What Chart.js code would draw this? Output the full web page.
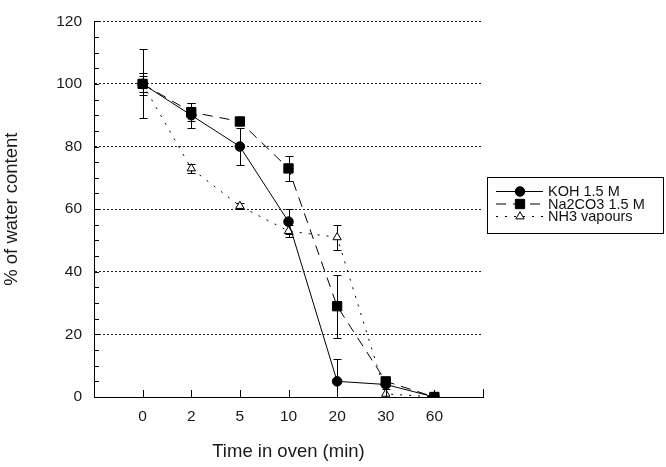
<!DOCTYPE html>
<html><head><meta charset="utf-8">
<script src="https://cdn.jsdelivr.net/npm/chart.js@4/dist/chart.umd.min.js"></script>
<style>html,body{margin:0;padding:0;background:#fff}#wrap{width:666px;height:467px;position:relative}</style>
</head><body><div id="wrap"><canvas id="c" width="666" height="467"></canvas></div>
<script>
const timeLabels = ['0','2','5','10','20','30','60'];
const kohValues = [100, 90, 80, 56, 5, 4, 0];
const kohErrors = [11, 4, 6, 4, 7, 0, 0];
const na2co3Values = [100, 91, 88, 73, 29, 5, 0];
const na2co3Errors = [3.5, 3, 0, 4, 10, 1.5, 1.5];
const nh3Values = [100, 73, 61, 53, 51, 1, 0];
const nh3Errors = [2.5, 1.5, 1, 2, 4, 1.5, 0];
const seriesNames = ['KOH 1.5 M', 'Na2CO3 1.5 M', 'NH3 vapours'];
const yMin = 0, yMax = 120, yStep = 20, yMinorStep = 5;

const FONT = "'Liberation Sans', Arial, Helvetica, sans-serif";
Chart.defaults.font.family = FONT;
Chart.defaults.color = '#1a1a1a';

function toPoints(vals){ return vals.map((v,i)=>({x:i, y:v})); }

function drawMarker(ctx, style, x, y, r, fill){
  ctx.save();
  ctx.fillStyle = fill; ctx.strokeStyle = '#000'; ctx.lineWidth = 1; ctx.setLineDash([]);
  ctx.beginPath();
  if (style === 'circle') { ctx.arc(x, y, r, 0, Math.PI*2); }
  else if (style === 'rect') { const s = Math.SQRT1_2 * r; ctx.rect(x-s, y-s, 2*s, 2*s); }
  else if (style === 'triangle') {
    ctx.moveTo(x, y - r); ctx.lineTo(x + r*0.866, y + r*0.5); ctx.lineTo(x - r*0.866, y + r*0.5); ctx.closePath();
  }
  ctx.fill(); ctx.stroke();
  ctx.restore();
}

const errorBars = {
  id: 'errorBars',
  beforeDatasetsDraw(chart){
    const {ctx, chartArea, scales:{x, y}} = chart;
    ctx.save();
    ctx.beginPath(); ctx.rect(chartArea.left, chartArea.top, chartArea.right-chartArea.left, chartArea.bottom-chartArea.top); ctx.clip();
    ctx.strokeStyle = '#000'; ctx.lineWidth = 1;
    chart.data.datasets.forEach(ds => {
      ds.data.forEach((p, i) => {
        const e = ds.errors[i];
        if (!e) return;
        const px = Math.round(x.getPixelForValue(p.x)) + 0.5;
        const y1 = Math.round(y.getPixelForValue(p.y + e)) + 0.5;
        const y2 = Math.round(y.getPixelForValue(p.y - e)) + 0.5;
        ctx.beginPath();
        ctx.moveTo(px, y1); ctx.lineTo(px, y2);
        ctx.moveTo(px-4, y1); ctx.lineTo(px+4, y1);
        ctx.moveTo(px-4, y2); ctx.lineTo(px+4, y2);
        ctx.stroke();
      });
    });
    ctx.restore();
  }
};

const axisTicks = {
  id: 'axisTicks',
  afterDraw(chart){
    const {ctx, chartArea, scales:{x, y}} = chart;
    ctx.save();
    ctx.strokeStyle = '#000'; ctx.lineWidth = 1;
    ctx.beginPath();
    for (let v = yMin; v <= yMax; v += yMinorStep) {
      const py = Math.round(y.getPixelForValue(v)) + 0.5;
      ctx.moveTo(chartArea.left, py); ctx.lineTo(chartArea.left + 5, py);
    }
    for (let i = 0; i <= timeLabels.length; i++) {
      const px = Math.round(x.getPixelForValue(i)) + 0.5;
      const len = i === timeLabels.length ? 8 : 7;
      ctx.moveTo(px, chartArea.bottom); ctx.lineTo(px, chartArea.bottom - len);
    }
    ctx.stroke();
    ctx.restore();
  }
};

const legendBox = {
  id: 'legendBox',
  afterDraw(chart){
    const ctx = chart.ctx;
    ctx.save();
    ctx.strokeStyle = '#000'; ctx.lineWidth = 1;
    ctx.strokeRect(487.5, 177.5, 176, 56);
    const rows = [191, 203.5, 216];
    chart.data.datasets.forEach((ds, k) => {
      const yy = rows[k];
      ctx.save();
      ctx.strokeStyle = '#000'; ctx.lineWidth = 1;
      ctx.setLineDash(ds.borderDash || []);
      ctx.beginPath(); ctx.moveTo(496, yy + 0.5); ctx.lineTo(543, yy + 0.5); ctx.stroke();
      ctx.restore();
      drawMarker(ctx, ds.pointStyle, 520, yy + 0.5, ds.pointRadius, ds.pointBackgroundColor);
      ctx.fillStyle = '#111';
      ctx.font = '14.5px ' + FONT;
      ctx.textBaseline = 'middle';
      ctx.fillText(ds.label, 548, yy + 1);
    });
    ctx.restore();
  }
};

new Chart(document.getElementById('c'), {
  type: 'line',
  data: {
    datasets: [
      { label: seriesNames[0], data: toPoints(kohValues), errors: kohErrors,
        borderColor: '#000', borderWidth: 1, pointStyle: 'circle', pointRadius: 4.8,
        pointBackgroundColor: '#000', pointBorderColor: '#000', pointBorderWidth: 1, order: 1 },
      { label: seriesNames[1], data: toPoints(na2co3Values), errors: na2co3Errors,
        borderColor: '#000', borderWidth: 1, borderDash: [10, 7], pointStyle: 'rect', pointRadius: 6.6,
        pointBackgroundColor: '#000', pointBorderColor: '#000', pointBorderWidth: 1, order: 0 },
      { label: seriesNames[2], data: toPoints(nh3Values), errors: nh3Errors,
        borderColor: '#000', borderWidth: 1, borderDash: [2, 7], pointStyle: 'triangle', pointRadius: 4.8,
        pointBackgroundColor: '#fff', pointBorderColor: '#000', pointBorderWidth: 1, order: 2 }
    ]
  },
  options: {
    responsive: false, animation: false, devicePixelRatio: 1,
    layout: { padding: { top: 9, right: 183, left: 0, bottom: 0 } },
    plugins: { legend: { display: false }, tooltip: { enabled: false } },
    scales: {
      x: {
        type: 'linear', min: -1, max: timeLabels.length,
        afterFit(s){ s.height = 70; },
        ticks: { stepSize: 1, autoSkip: false, maxRotation: 0, padding: 10,
          font: { size: 15.5 }, color: '#1a1a1a',
          callback: v => (timeLabels[v] !== undefined ? timeLabels[v] : '') },
        grid: { drawOnChartArea: false, drawTicks: false },
        border: { display: true, color: '#000', width: 1 },
        title: { display: true, text: 'Time in oven (min)', font: { size: 18.5 }, color: '#1a1a1a', padding: { top: 0, bottom: 4 } }
      },
      y: {
        min: yMin, max: yMax,
        afterFit(s){ s.width = 94; },
        ticks: { stepSize: yStep, padding: 12, font: { size: 15.5 }, color: '#1a1a1a' },
        grid: { color: '#222', lineWidth: 1, drawTicks: false },
        border: { display: true, color: '#000', width: 1, dash: [2, 2] },
        title: { display: true, text: '% of water content', font: { size: 18.5 }, color: '#1a1a1a', padding: { top: 1, bottom: 0 } }
      }
    }
  },
  plugins: [errorBars, axisTicks, legendBox]
});
</script></body></html>
